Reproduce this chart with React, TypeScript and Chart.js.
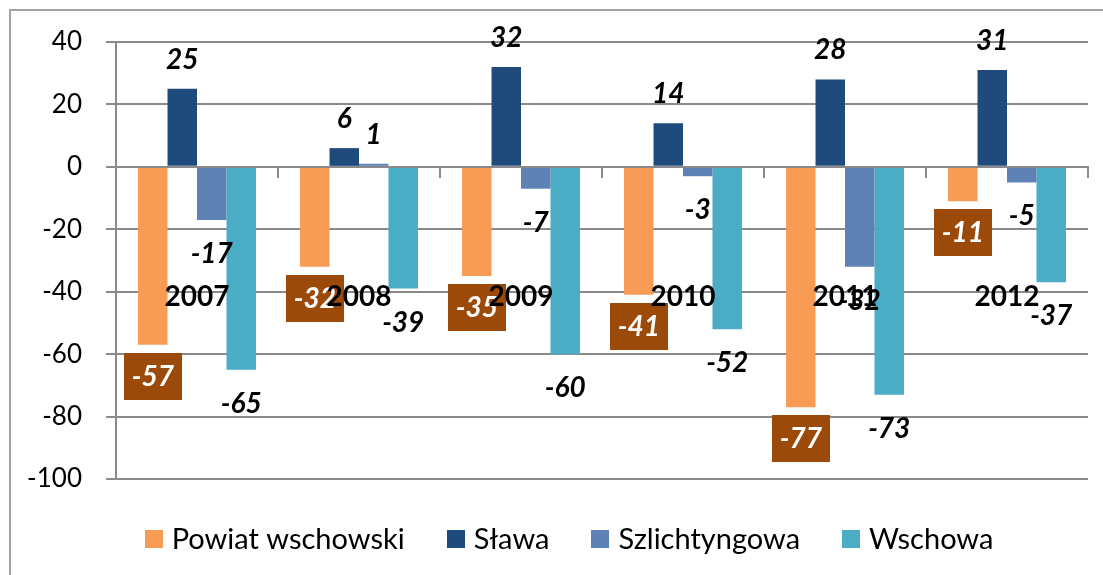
import React, { useEffect, useRef } from "react";
import { Chart, registerables } from "chart.js";

Chart.register(...registerables);

const categories = ["2007", "2008", "2009", "2010", "2011", "2012"];
const seriesNames = ["Powiat wschowski", "Sława", "Szlichtyngowa", "Wschowa"];
const powiatValues = [-57, -32, -35, -41, -77, -11];
const slawaValues = [25, 6, 32, 14, 28, 31];
const szlichtyngowaValues = [-17, 1, -7, -3, -32, -5];
const wschowaValues = [-65, -39, -60, -52, -73, -37];
const seriesColors = ["#F79B55", "#1F4A7C", "#5E82B6", "#4BACC6"];
const yMin = -100;
const yMax = 40;
const yStep = 20;

const GRID = "#8a8a8a";
const FONT = "Lato, 'Open Sans', sans-serif";

const frameAndLabels = {
  id: "frameAndLabels",
  beforeDraw(chart: any) {
    const ctx = chart.ctx;
    ctx.save();
    ctx.strokeStyle = "#a3a3a3";
    ctx.lineWidth = 2;
    ctx.beginPath();
    ctx.moveTo(10, chart.height + 5);
    ctx.lineTo(10, 10);
    ctx.lineTo(chart.width + 5, 10);
    ctx.stroke();
    ctx.restore();
  },
  afterDatasetsDraw(chart: any) {
    const ctx = chart.ctx;
    ctx.save();
    ctx.font = `italic bold 28px ${FONT}`;
    ctx.textAlign = "center";
    ctx.textBaseline = "middle";
    chart.data.datasets.forEach((ds: any, di: number) => {
      const meta = chart.getDatasetMeta(di);
      meta.data.forEach((bar: any, i: number) => {
        const v = ds.data[i];
        const { x, y } = bar.getProps(["x", "y"], true);
        const txt = String(v);
        if (di === 0) {
          const cy = v >= 0 ? y - 31 : y + 31;
          const w = ctx.measureText(txt).width;
          ctx.fillStyle = "#9C4A0A";
          ctx.fillRect(Math.round(x - w / 2 - 8), Math.round(cy - 23), Math.round(w + 16), 47);
          ctx.fillStyle = "#ffffff";
          ctx.fillText(txt, x, cy + 1);
        } else {
          const cy = v >= 0 ? y - 30 : y + 33;
          ctx.fillStyle = "#000000";
          ctx.fillText(txt, x, cy + 1);
        }
      });
    });
    ctx.restore();
  },
  afterDraw(chart: any) {
    const ctx = chart.ctx;
    ctx.save();
    ctx.font = `29px ${FONT}`;
    ctx.textBaseline = "middle";
    ctx.textAlign = "left";
    const box = 18;
    const gapText = 9;
    const gapItems = 42;
    const widths = seriesNames.map((n) => ctx.measureText(n).width);
    const total = widths.reduce((a, w) => a + box + gapText + w, 0) + gapItems * (seriesNames.length - 1);
    const centerX = 569;
    const centerY = 539;
    let x = centerX - total / 2;
    seriesNames.forEach((n, i) => {
      ctx.fillStyle = seriesColors[i];
      ctx.fillRect(Math.round(x), centerY - box / 2, box, box);
      ctx.fillStyle = "#000000";
      ctx.fillText(n, x + box + gapText, centerY + 1);
      x += box + gapText + widths[i] + gapItems;
    });
    ctx.restore();
  },
};

export default function App() {
  const canvasRef = useRef<HTMLCanvasElement | null>(null);

  useEffect(() => {
    if (!canvasRef.current) return;
    const seriesValues = [powiatValues, slawaValues, szlichtyngowaValues, wschowaValues];
    const chart = new Chart(canvasRef.current, {
      type: "bar",
      data: {
        labels: categories,
        datasets: seriesNames.map((name, i) => ({
          label: name,
          data: seriesValues[i],
          backgroundColor: seriesColors[i],
          borderWidth: 0,
          categoryPercentage: 0.728,
          barPercentage: 1,
        })),
      },
      options: {
        responsive: false,
        animation: false,
        devicePixelRatio: 1,
        layout: { padding: { top: 42, bottom: 96, right: 15, left: 0 } },
        plugins: {
          legend: { display: false },
          tooltip: { enabled: false },
        },
        scales: {
          x: {
            position: { y: 0 } as any,
            grid: {
              offset: true,
              drawOnChartArea: false,
              drawTicks: true,
              tickLength: 10,
              color: GRID,
              lineWidth: 2,
              z: 1,
            },
            border: { display: true, color: GRID, width: 2, z: 1 },
            ticks: {
              padding: 103,
              color: "#000000",
              font: { family: FONT, weight: "bold", size: 28 },
              maxRotation: 0,
              z: 2,
            },
            afterFit: (s: any) => {
              s.paddingLeft = 0;
              s.paddingRight = 0;
            },
          },
          y: {
            min: yMin,
            max: yMax,
            ticks: {
              stepSize: yStep,
              padding: 24,
              color: "#000000",
              font: { family: FONT, size: 26 },
            },
            grid: { color: GRID, lineWidth: 2, tickLength: 10 },
            border: { display: true, color: GRID, width: 2 },
            afterFit: (s: any) => {
              s.width = 116;
            },
          },
        },
      },
      plugins: [frameAndLabels],
    });
    return () => chart.destroy();
  }, []);

  return (
    <div style={{ position: "absolute", left: 0, top: 0, width: 1103, height: 575, background: "#fff" }}>
      <canvas ref={canvasRef} width={1103} height={575} />
    </div>
  );
}
